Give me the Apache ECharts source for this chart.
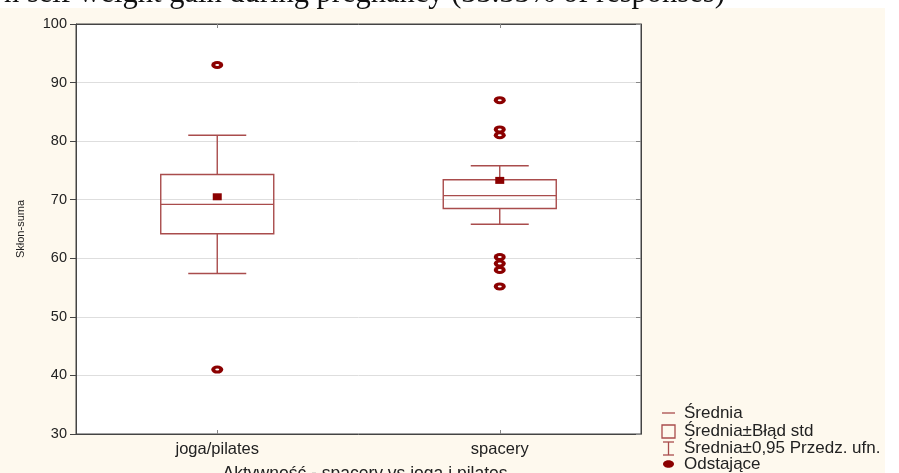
<!DOCTYPE html>
<html>
<head>
<meta charset="utf-8">
<script src="https://cdn.jsdelivr.net/npm/echarts@6/dist/echarts.min.js"></script>
<style>
  html, body { margin: 0; padding: 0; background: #ffffff; }
  #chart { width: 899px; height: 473px; }
</style>
</head>
<body>
<div id="chart"></div>
<script>
// Box plot data: Skłon-suma by activity group
const categories = ['joga/pilates', 'spacery'];
const whiskerLow  = [57.4, 65.8];
const boxLow      = [64.2, 68.5];
const midLine     = [69.2, 70.7];
const boxHigh     = [74.3, 73.4];
const whiskerHigh = [81.0, 75.8];
const means       = [70.5, 73.3];
const outliersJoga    = [93, 41];
const outliersSpacery = [87, 82, 81, 60.2, 59.1, 58, 55.2];
const yTicks = { min: 30, max: 100, step: 10 };

const boxColor = '#a94c4c';
const darkRed = '#8b0000';

const boxData = categories.map((c, i) =>
  [i, whiskerLow[i], boxLow[i], midLine[i], boxHigh[i], whiskerHigh[i]]);
const meanData = categories.map((c, i) => [i, means[i]]);
const outlierData = []
  .concat(outliersJoga.map(v => [0, v]))
  .concat(outliersSpacery.map(v => [1, v]));

const chart = echarts.init(document.getElementById('chart'), null, { renderer: 'canvas' });

function renderBox(params, api) {
  const x = api.value(0);
  const pLow = api.coord([x, api.value(1)]);
  const pQ1 = api.coord([x, api.value(2)]);
  const pMid = api.coord([x, api.value(3)]);
  const pQ3 = api.coord([x, api.value(4)]);
  const pHigh = api.coord([x, api.value(5)]);
  const cx = pQ1[0];
  const halfBox = 56.5, halfCap = 29;
  const style = { stroke: boxColor, lineWidth: 1.4, fill: null };
  return {
    type: 'group',
    children: [
      { type: 'rect', shape: { x: cx - halfBox, y: pQ3[1], width: halfBox * 2, height: pQ1[1] - pQ3[1] }, style: style },
      { type: 'line', shape: { x1: cx - halfBox, y1: pMid[1], x2: cx + halfBox, y2: pMid[1] }, style: style },
      { type: 'line', shape: { x1: cx, y1: pQ3[1], x2: cx, y2: pHigh[1] }, style: style },
      { type: 'line', shape: { x1: cx, y1: pQ1[1], x2: cx, y2: pLow[1] }, style: style },
      { type: 'line', shape: { x1: cx - halfCap, y1: pHigh[1], x2: cx + halfCap, y2: pHigh[1] }, style: style },
      { type: 'line', shape: { x1: cx - halfCap, y1: pLow[1], x2: cx + halfCap, y2: pLow[1] }, style: style }
    ]
  };
}

const font = 'Liberation Sans, Arial, sans-serif';
const lgX = 662, lgText = 684, lgFont = '17px ' + font;

const option = {
  backgroundColor: '#ffffff',
  animation: false,
  grid: {
    left: 76, right: 258, top: 24, bottom: 39,
    show: true, backgroundColor: '#ffffff', borderColor: '#444444', borderWidth: 1
  },
  graphic: [
    { type: 'rect', z: -10, silent: true, shape: { x: 0, y: 8, width: 885, height: 465 }, style: { fill: '#fef9ee' } },
    { type: 'text', x: 4, y: 9, z: 10, style: {
        text: 'n self weight gain during pregnancy (33.33% of responses)',
        font: '30.5px "Liberation Serif", "Times New Roman", serif', fill: '#111', verticalAlign: 'bottom' } },
    { type: 'text', x: 365, y: 465, z: 10, style: {
        text: 'Aktywność - spacery vs joga i pilates', font: '17.5px ' + font, fill: '#222', align: 'center' } },
    // legend
    { type: 'line', shape: { x1: lgX, y1: 413, x2: lgX + 13, y2: 413 }, style: { stroke: boxColor, lineWidth: 1.3 } },
    { type: 'text', x: lgText, y: 413, style: { text: 'Średnia', font: lgFont, fill: '#222', verticalAlign: 'middle' } },
    { type: 'rect', shape: { x: lgX, y: 425, width: 13, height: 13 }, style: { stroke: boxColor, fill: null, lineWidth: 1.3 } },
    { type: 'text', x: lgText, y: 431, style: { text: 'Średnia±Błąd std', font: lgFont, fill: '#222', verticalAlign: 'middle' } },
    { type: 'line', shape: { x1: lgX + 6.5, y1: 442, x2: lgX + 6.5, y2: 455 }, style: { stroke: boxColor, lineWidth: 1.3 } },
    { type: 'line', shape: { x1: lgX + 1, y1: 442, x2: lgX + 12, y2: 442 }, style: { stroke: boxColor, lineWidth: 1.3 } },
    { type: 'line', shape: { x1: lgX + 1, y1: 455, x2: lgX + 12, y2: 455 }, style: { stroke: boxColor, lineWidth: 1.3 } },
    { type: 'text', x: lgText, y: 448, style: { text: 'Średnia±0,95 Przedz. ufn.', font: lgFont, fill: '#222', verticalAlign: 'middle' } },
    { type: 'ellipse', shape: { cx: lgX + 6.5, cy: 464, rx: 5.5, ry: 3.8 }, style: { fill: darkRed } },
    { type: 'text', x: lgText, y: 464, style: { text: 'Odstające', font: lgFont, fill: '#222', verticalAlign: 'middle' } }
  ],
  xAxis: [
    {
      type: 'category', data: categories, boundaryGap: true, position: 'bottom',
      axisLine: { show: true, lineStyle: { color: '#444' } },
      axisTick: { show: true, inside: true, alignWithLabel: true, length: 4, lineStyle: { color: '#888' } },
      axisLabel: { color: '#222', fontSize: 16.5, fontFamily: font, margin: 7 },
      splitLine: { show: false }
    },
    {
      type: 'category', data: categories, boundaryGap: true, position: 'top',
      axisLine: { show: true, lineStyle: { color: '#444' } },
      axisTick: { show: true, inside: true, alignWithLabel: true, length: 4, lineStyle: { color: '#888' } },
      axisLabel: { show: false }
    }
  ],
  yAxis: [
    {
      type: 'value', min: yTicks.min, max: yTicks.max, interval: yTicks.step,
      name: 'Skłon-suma', nameLocation: 'middle', nameGap: 50, nameRotate: 90,
      nameTextStyle: { color: '#222', fontSize: 11, fontFamily: font },
      axisLine: { show: true, lineStyle: { color: '#444' } },
      axisTick: { show: true, length: 6, lineStyle: { color: '#444' } },
      axisLabel: { color: '#222', fontSize: 14.5, fontFamily: font, margin: 9 },
      splitLine: { show: true, lineStyle: { color: '#dedede', width: 1 } }
    },
    {
      type: 'value', min: yTicks.min, max: yTicks.max, interval: yTicks.step, position: 'right',
      axisLine: { show: true, lineStyle: { color: '#444' } },
      axisTick: { show: true, inside: true, length: 5, lineStyle: { color: '#888' } },
      axisLabel: { show: false },
      splitLine: { show: false }
    }
  ],
  series: [
    {
      type: 'custom', name: 'box', xAxisIndex: 0, yAxisIndex: 0,
      renderItem: renderBox, data: boxData, z: 3,
      encode: { x: 0, y: [1, 2, 3, 4, 5] }
    },
    {
      type: 'scatter', name: 'Średnia', xAxisIndex: 0, yAxisIndex: 0,
      data: meanData, symbol: 'rect', symbolSize: [9, 7],
      itemStyle: { color: darkRed, opacity: 1 }, z: 4
    },
    {
      type: 'scatter', name: 'Odstające', xAxisIndex: 0, yAxisIndex: 0,
      data: outlierData, symbol: 'circle', symbolSize: [12, 8],
      itemStyle: { color: darkRed, opacity: 1 }, z: 5
    },
    {
      // small light core inside each outlier mark
      type: 'scatter', name: 'Odstające-core', xAxisIndex: 0, yAxisIndex: 0,
      data: outlierData, symbol: 'circle', symbolSize: [4, 2],
      itemStyle: { color: '#ffffff', opacity: 1 }, z: 6, silent: true
    }
  ]
};

chart.setOption(option);
</script>
</body>
</html>
